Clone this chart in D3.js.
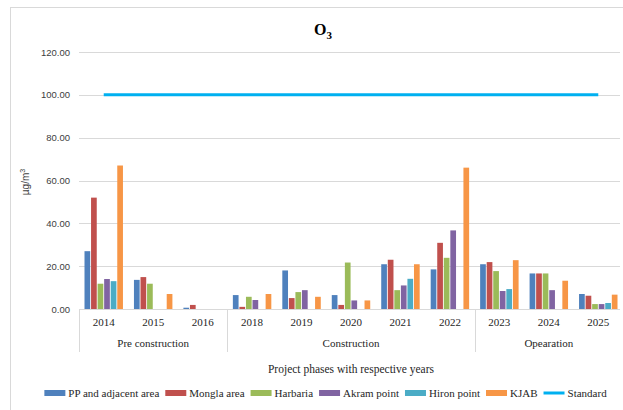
<!DOCTYPE html>
<html>
<head>
<meta charset="utf-8">
<script src="https://cdn.jsdelivr.net/npm/d3@7"></script>
<style>
  html, body { margin: 0; padding: 0; background: #fff; }
  svg { display: block; }
</style>
</head>
<body>
<svg id="chart" width="623" height="410"></svg>
<script>
// ---- data ----
const years = ["2014","2015","2016","2018","2019","2020","2021","2022","2023","2024","2025"];
const phases = ["Pre construction","Construction","Opearation"];
const phaseYears = [["2014","2015","2016"],["2018","2019","2020","2021","2022"],["2023","2024","2025"]];
const seriesNames = ["PP and adjacent area","Mongla area","Harbaria","Akram point","Hiron point","KJAB"];
const ppArea   = [27.0, 13.6, 0.6, 6.5, 18.0, 6.5, 20.9, 18.5, 20.9, 16.6, 7.0];
const mongla   = [52.0, 14.9, 1.9, 1.0, 5.1, 1.9, 23.0, 30.9, 21.9, 16.6, 6.2];
const harbaria = [11.8, 11.8, 0, 5.7, 7.9, 21.7, 8.8, 23.9, 17.7, 16.6, 2.3];
const akram    = [14.0, 0, 0, 4.2, 8.8, 4.0, 11.0, 36.7, 8.4, 8.8, 2.3];
const hiron    = [13.0, 0, 0, 0, 0, 0, 14.1, 0, 9.3, 0, 2.8];
const kjab     = [67.0, 7.0, 0, 7.0, 5.7, 4.0, 20.9, 66.0, 22.8, 13.2, 6.7];
const standard = 100;
const yTicks = [0, 20, 40, 60, 80, 100, 120];
const colors = ["#4F81BD","#C0504D","#9BBB59","#8064A2","#4BACC6","#F79646"];
const standardColor = "#00B0F0";
const allSeries = [ppArea, mongla, harbaria, akram, hiron, kjab];

// ---- layout ----
const svg = d3.select("#chart");
const mLeft = 79, mRight = 623, mTop = 52, mBottom = 309;

svg.append("rect").attr("x", 10.5).attr("y", 7.5).attr("width", 640).attr("height", 420)
  .attr("fill", "#fff").attr("stroke", "#d9d9d9");

const x0 = d3.scaleBand().domain(years).range([mLeft, mRight]);
const bw = x0.bandwidth();
const x1 = d3.scaleBand().domain(seriesNames).range([5.5, bw - 5.5]).paddingInner(0.13);
const y = d3.scaleLinear().domain([0, 120]).range([mBottom, mTop]);

// gridlines
svg.append("g").selectAll("line").data(yTicks.filter(d => d > 0)).join("line")
  .attr("x1", mLeft).attr("x2", 620)
  .attr("y1", d => Math.round(y(d)) + 0.5).attr("y2", d => Math.round(y(d)) + 0.5)
  .attr("stroke", "#d9d9d9").attr("stroke-width", 1);

// y axis labels
const yAxis = d3.axisLeft(y).tickValues(yTicks).tickFormat(d3.format(".2f")).tickSize(0).tickPadding(9);
const yg = svg.append("g").attr("transform", `translate(${mLeft},0)`).call(yAxis);
yg.select(".domain").remove();
yg.selectAll("text").attr("font-family", "'Liberation Sans', Arial, sans-serif")
  .attr("font-size", "9.5px").attr("fill", "#404040");

// bars
const rows = years.map((yr, i) => ({ year: yr, vals: allSeries.map((s, j) => ({ name: seriesNames[j], v: s[i], c: colors[j] })) }));
const groups = svg.append("g").selectAll("g").data(rows).join("g")
  .attr("transform", d => `translate(${x0(d.year)},0)`);
groups.selectAll("rect").data(d => d.vals.filter(v => v.v > 0)).join("rect")
  .attr("x", d => x1(d.name)).attr("width", x1.bandwidth())
  .attr("y", d => y(d.v)).attr("height", d => y(0) - y(d.v))
  .attr("fill", d => d.c);

// standard line
svg.append("line")
  .attr("x1", x0(years[0]) + bw / 2).attr("x2", x0(years[years.length - 1]) + bw / 2)
  .attr("y1", y(standard)).attr("y2", y(standard))
  .attr("stroke", standardColor).attr("stroke-width", 3);

// baseline
svg.append("line").attr("x1", mLeft).attr("x2", 620).attr("y1", mBottom + 0.5).attr("y2", mBottom + 0.5)
  .attr("stroke", "#d9d9d9");

// x axis (years)
const xAxis = d3.axisBottom(x0).tickSize(0).tickPadding(9);
const xg = svg.append("g").attr("transform", `translate(0,${mBottom})`).call(xAxis);
xg.select(".domain").remove();
xg.selectAll("text").attr("font-family", "'Liberation Serif', 'DejaVu Serif', serif")
  .attr("font-size", "11px").attr("fill", "#262626");

// phase separators and labels
const bounds = [mLeft];
phaseYears.forEach(py => bounds.push(x0(py[py.length - 1]) + bw));
svg.append("g").selectAll("line").data(bounds.slice(0, 3)).join("line")
  .attr("x1", d => Math.round(d) + 0.5).attr("x2", d => Math.round(d) + 0.5)
  .attr("y1", mBottom).attr("y2", 352)
  .attr("stroke", "#d9d9d9");
svg.append("g").selectAll("text").data(phases).join("text")
  .attr("x", (d, i) => (bounds[i] + bounds[i + 1]) / 2)
  .attr("y", 347)
  .attr("text-anchor", "middle")
  .attr("font-family", "'Liberation Serif', 'DejaVu Serif', serif")
  .attr("font-size", "11px").attr("fill", "#262626")
  .text(d => d);

// title
const title = svg.append("text").attr("x", 323).attr("y", 35).attr("text-anchor", "middle")
  .attr("font-family", "'Liberation Serif', 'DejaVu Serif', serif")
  .attr("font-size", "16px").attr("font-weight", "bold").attr("fill", "#000");
title.append("tspan").text("O");
title.append("tspan").attr("font-size", "11px").attr("dy", 4).text("3");

// y axis title
const yt = svg.append("text").attr("transform", "translate(29,182) rotate(-90)")
  .attr("text-anchor", "middle")
  .attr("font-family", "'Liberation Sans', Arial, sans-serif")
  .attr("font-size", "10px").attr("fill", "#404040");
yt.append("tspan").text("µg/m");
yt.append("tspan").attr("font-size", "7px").attr("dy", -4).text("3");

// x axis title
svg.append("text").attr("x", 351).attr("y", 373).attr("text-anchor", "middle")
  .attr("font-family", "'Liberation Serif', 'DejaVu Serif', serif")
  .attr("font-size", "11.5px").attr("fill", "#262626")
  .text("Project  phases with respective years");

// legend
const legendItems = seriesNames.map((n, i) => ({ name: n, color: colors[i], line: false }))
  .concat([{ name: "Standard", color: standardColor, line: true }]);
const lg = svg.append("g");
let cx = 0;
legendItems.forEach(it => {
  const g = lg.append("g").attr("transform", `translate(${cx},0)`);
  if (it.line) {
    g.append("line").attr("x1", 0).attr("x2", 21).attr("y1", 0).attr("y2", 0)
      .attr("stroke", it.color).attr("stroke-width", 3);
  } else {
    g.append("rect").attr("x", 0).attr("y", -3).attr("width", 21).attr("height", 6).attr("fill", it.color);
  }
  const t = g.append("text").attr("x", 24).attr("y", 4)
    .attr("font-family", "'Liberation Serif', 'DejaVu Serif', serif")
    .attr("font-size", "11px").attr("fill", "#262626").text(it.name);
  cx += 24 + t.node().getComputedTextLength() + 6;
});
const lw = cx - 6;
lg.attr("transform", `translate(${325.5 - lw / 2},393)`);
</script>
</body>
</html>
